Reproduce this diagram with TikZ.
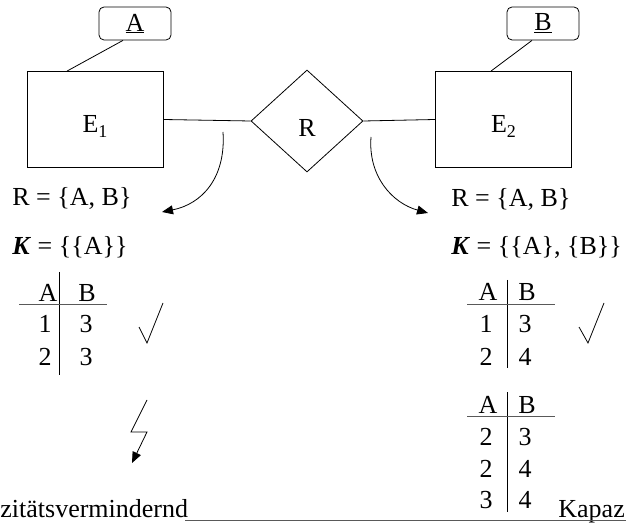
\documentclass[tikz,border=0pt]{standalone}
\usepackage{fontspec}
\setmainfont{Liberation Serif}
\usetikzlibrary{arrows.meta,shapes.geometric}
\begin{document}
\begin{tikzpicture}[x=1pt,y=-1pt, line width=0.8pt,
  txt/.style={font=\fontsize{26}{30}\selectfont, inner sep=0pt},
  lab/.style={font=\fontsize{26}{30}\selectfont, inner sep=0pt, yshift=-7pt},
  ent/.style={draw, minimum width=136pt, minimum height=96pt, inner sep=0pt},
  attr/.style={draw, rounded corners=5pt, minimum width=72pt, minimum height=33pt, inner sep=0pt, font=\fontsize{26}{30}\selectfont},
  rel/.style={draw, diamond, minimum width=112pt, minimum height=102pt, inner sep=0pt},
  tip/.style={-{Triangle[length=11pt,width=9pt]}},
  hline/.style={draw=black!65}]
\useasboundingbox (0,0) rectangle (626,526);

% ER diagram
\node[ent, label={[lab]center:E\raisebox{-0.35ex}{\fontsize{18}{18}\selectfont 1}}] (E1) at (95,119.5) {};
\node[ent, label={[lab]center:E\raisebox{-0.35ex}{\fontsize{18}{18}\selectfont 2}}] (E2) at (503.5,119.5) {};
\node[attr] (A) at (135,23.5) {\underline{A}};
\node[attr] (B) at (543,23.5) {\underline{B}};
\node[rel, label={[lab]center:R}] (R) at (307,121) {};
\draw (E1.east) -- (R.west);
\draw (R.east) -- (E2.west);
\draw ([xshift=-12pt]A.south) -- ([xshift=-28pt]E1.north);
\draw ([xshift=-11pt]B.south) -- ([xshift=-12.5pt]E2.north);

% curved arrows
\coordinate (la) at (223,132);
\coordinate (lb) at (162,212);
\coordinate (ra) at (371,137);
\coordinate (rb) at (428,213);
\draw[tip] (la) .. controls (226,178) and (202,204) .. (lb);
\draw[tip] (ra) .. controls (368,176) and (392,203) .. (rb);

% left side texts
\node[txt, anchor=base west] (lR) at (12,206) {R = \{A, B\}};
\node[txt, anchor=base west] (lK) at (12,255) {\textbf{\textit{K}} = \{\{A\}\}};
% left table
\node[txt, anchor=base] (lA) at (48,302) {A};
\node[txt, anchor=base] (lB) at (87,302) {B};
\node[txt, anchor=base] (l11) at (45,333) {1};
\node[txt, anchor=base] (l12) at (86,333) {3};
\node[txt, anchor=base] (l21) at (45,365) {2};
\node[txt, anchor=base] (l22) at (86,365) {3};
\draw (59,272) -- (59,375);
\draw[hline] (19,304) -- (107,304);
% left check
\draw (139,327) -- (147,343) -- (163,303);
% lightning
\draw[tip] (147,400) -- (131,432) -- (147,432) -- (132,463);

% right side texts
\node[txt, anchor=base west] (rR) at (451,207) {R = \{A, B\}};
\node[txt, anchor=base west] (rK) at (451,255) {\textbf{\textit{K}} = \{\{A\}, \{B\}\}};
% right table 1
\node[txt, anchor=base] (rA) at (488,301) {A};
\node[txt, anchor=base] (rB) at (527,301) {B};
\node[txt, anchor=base] (r11) at (486,333) {1};
\node[txt, anchor=base] (r12) at (525,333) {3};
\node[txt, anchor=base] (r21) at (486,365) {2};
\node[txt, anchor=base] (r22) at (525,365) {4};
\draw (507,280) -- (507,368);
\draw[hline] (467,304) -- (555,304);
% right check
\draw (579,327) -- (588,343) -- (604,303);
% right table 2
\node[txt, anchor=base] (sA) at (488,413) {A};
\node[txt, anchor=base] (sB) at (527,413) {B};
\node[txt, anchor=base] (s11) at (486,445) {2};
\node[txt, anchor=base] (s12) at (525,445) {3};
\node[txt, anchor=base] (s21) at (486,477) {2};
\node[txt, anchor=base] (s22) at (525,477) {4};
\node[txt, anchor=base] (s31) at (486,508) {3};
\node[txt, anchor=base] (s32) at (525,508) {4};
\draw (507,392) -- (507,512);
\draw[hline] (467,416) -- (555,416);

% bottom
\node[txt, anchor=base west] (bl) at (0,517) {zitätsvermindernd};
\node[txt, anchor=base west] (br) at (558,517) {Kapaz};
\draw[hline] (185,520) -- (626,520);
\end{tikzpicture}
\end{document}
